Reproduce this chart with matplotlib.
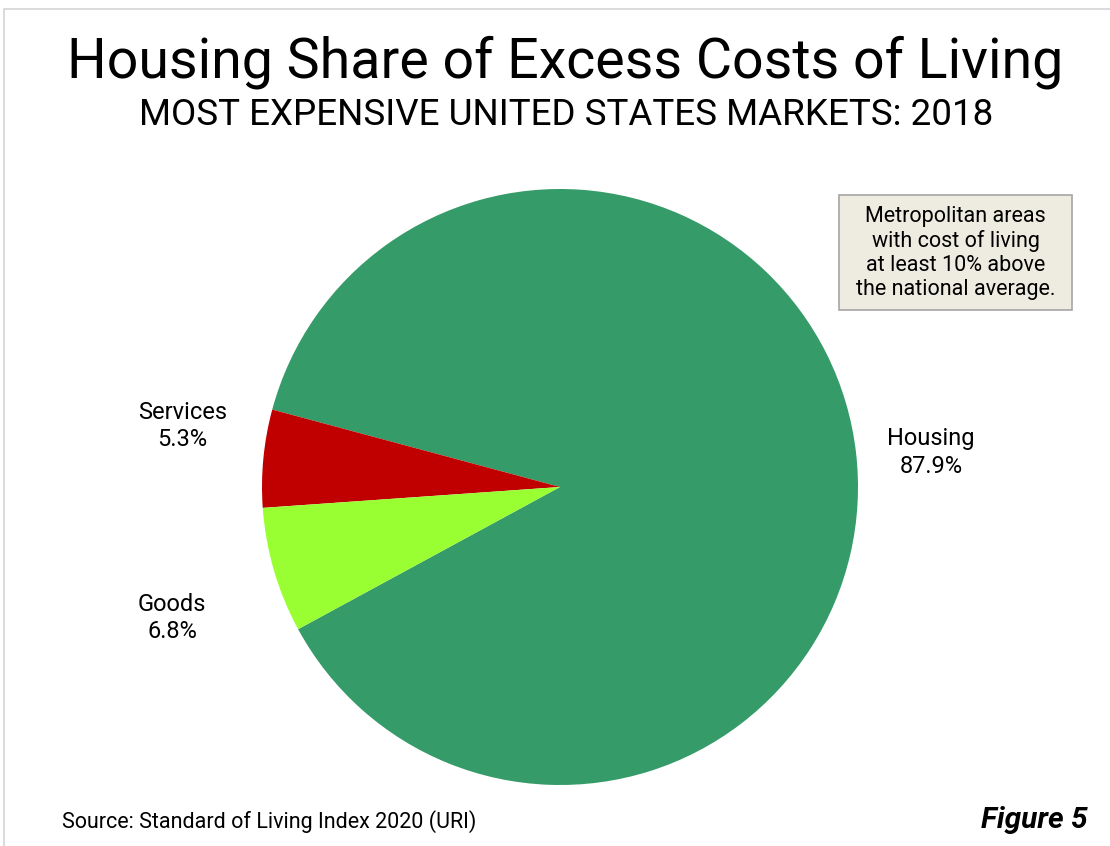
import matplotlib.pyplot as plt
from matplotlib.patches import Rectangle

# Data
categories = ['Housing', 'Services', 'Goods']
shares = [87.9, 5.3, 6.8]
colors = ['#359b68', '#c00000', '#99ff33']

title = 'Housing Share of Excess Costs of Living'
subtitle = 'MOST EXPENSIVE UNITED STATES MARKETS: 2018'
note = 'Metropolitan areas\nwith cost of living\nat least 10% above\nthe national average.'
source = 'Source: Standard of Living Index 2020 (URI)'

plt.rcParams['font.family'] = ['Roboto', 'DejaVu Sans']

W, H = 1110, 846
fig = plt.figure(figsize=(W / 100, H / 100), dpi=100)

# light frame around the picture (cut at right / bottom)
fig.patches.append(Rectangle((4 / W, -0.1), 1.2, 1 - 9 / H + 0.1,
                             transform=fig.transFigure, fill=False,
                             edgecolor='#d4d4d8', linewidth=1.2))

# pie axes: center (560, 487), radius 298 px
cx, cy, r = 560, 487, 298
ax = fig.add_axes([(cx - r) / W, (H - cy - r) / H, 2 * r / W, 2 * r / H])
ax.pie(shares, colors=colors, startangle=208.5, counterclock=True,
       wedgeprops=dict(linewidth=0))
ax.set_xlim(-1, 1)
ax.set_ylim(-1, 1)
ax.set_aspect('equal')
ax.axis('off')

# slice labels
label_pos = {'Housing': (1.245, 0.116), 'Services': (-1.267, 0.205), 'Goods': (-1.302, -0.44)}
for cat, val in zip(categories, shares):
    x, y = label_pos[cat]
    ax.text(x, y, f'{cat}\n{val}%', ha='center', va='center', fontsize=17,
            linespacing=1.25, clip_on=False)

fig.text(565 / W, 1 - 62 / H, title, ha='center', va='center', fontsize=40)
fig.text(566 / W, 1 - 115 / H, subtitle, ha='center', va='center', fontsize=26.5)

# note box
fig.patches.append(Rectangle((839 / W, 1 - 310 / H), 233 / W, 115 / H,
                             transform=fig.transFigure, facecolor='#eeece1',
                             edgecolor='#a6a6a6', linewidth=1.2))
fig.text(955.5 / W, 1 - 253 / H, note, ha='center', va='center', fontsize=15.5,
         linespacing=1.2)

fig.text(62 / W, 1 - 822 / H, source, ha='left', va='center', fontsize=15.5)
fig.text(1088 / W, 1 - 820 / H, 'Figure 5', ha='right', va='center',
         fontsize=21.5, fontweight='bold', fontstyle='italic')

fig.savefig('out.png', dpi=100)
